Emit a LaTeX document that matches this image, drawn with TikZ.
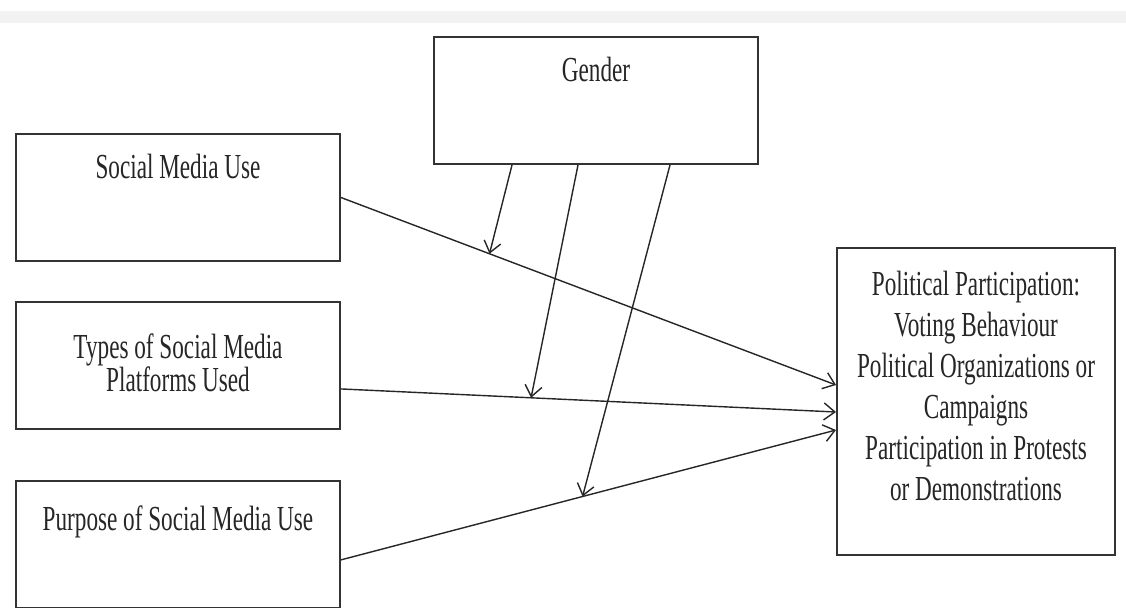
\documentclass[tikz,border=0pt]{standalone}
\usepackage{fontspec}
\setmainfont{Liberation Serif}[FakeStretch=0.66]
\usepackage{tikz}
\usetikzlibrary{arrows.meta, positioning}

\begin{document}
\begin{tikzpicture}[
    node distance=1cm,
    box/.style={rectangle, minimum width=6.48cm, minimum height=2.54cm, draw=black!80, line width=1.1pt, fill=white},
    txt/.style={inner sep=0pt, align=center, font=\fontsize{20}{23.3}\selectfont, text=black!85},
    arrow/.style={line width=0.8pt, draw=black!85, -{Straight Barb[length=2.2mm, width=3.4mm]}},
]
    \useasboundingbox (0,0) rectangle (22.52,-12.14);
    % grey band at the top of the scan
    \fill[black!5] (0,-0.22) rectangle (22.52,-0.46);

    % boxes
    \node (gender) [box] at (11.92,-2.01) {};
    \node (sm) [box] at (3.56,-3.95) {};
    \node (types) [box, below=0.78cm of sm] {};
    \node (purpose) [box, below=1.0cm of types] {};
    \node (pp) [box, minimum width=5.56cm, minimum height=6.14cm] at (19.52,-8.03) {};

    % box texts
    \node (gender-t) [txt, below=0.42cm of gender.north] {Gender};
    \node (sm-t) [txt, below=0.42cm of sm.north] {Social Media Use};
    \node (types-t) [txt, font=\fontsize{20}{18.8}\selectfont, below=0.64cm of types.north] {Types of Social Media\\Platforms Used};
    \node (purpose-t) [txt, below=0.5cm of purpose.north] {Purpose of Social Media Use};
    \node (pp-t) [txt, below=0.48cm of pp.north] {Political Participation:\\Voting Behaviour\\Political Organizations or\\Campaigns\\Participation in Protests\\or Demonstrations};

    % main paths
    \draw [arrow] (sm.east) -- coordinate[pos=0.3] (m-sm) ([yshift=0.33cm]pp.west);
    \draw [arrow] ([yshift=-0.47cm]types.east) -- coordinate[pos=0.384] (m-types) ([yshift=-0.21cm]pp.west);
    \draw [arrow] ([yshift=-0.31cm]purpose.east) -- coordinate[pos=0.488] (m-purpose) ([yshift=-0.57cm]pp.west);

    % moderation by gender
    \draw [arrow] ([xshift=-1.68cm]gender.south) -- (m-sm);
    \draw [arrow] ([xshift=-0.36cm]gender.south) -- (m-types);
    \draw [arrow] ([xshift=1.48cm]gender.south) -- (m-purpose);

\end{tikzpicture}
\end{document}
